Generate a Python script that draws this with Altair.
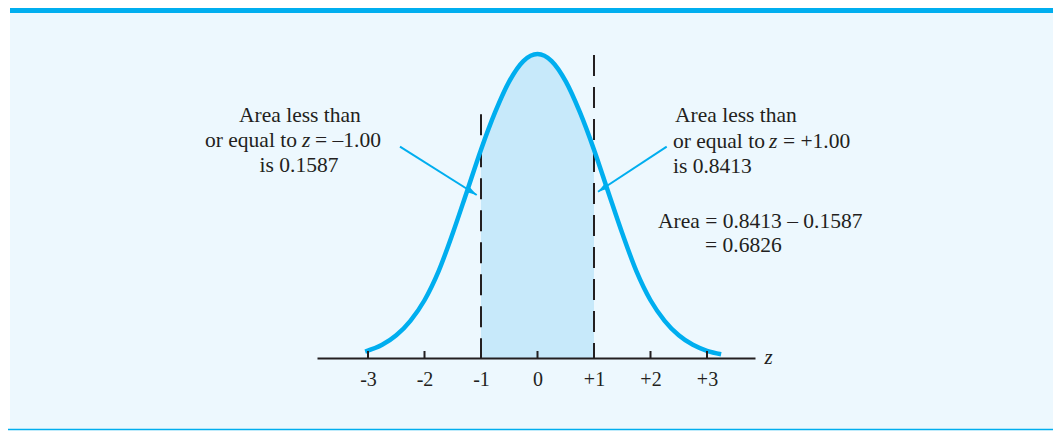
import math
import altair as alt
import pandas as pd

# ---------------- data ----------------
# bell curve (z, height)
curve_z = [-3.05, -2.75, -2.5, -2.25, -2.0, -1.75, -1.5, -1.25, -1.0, -0.75, -0.5, -0.25, 0.0,
           0.25, 0.5, 0.75, 1.0, 1.25, 1.5, 1.75, 2.0, 2.25, 2.5, 2.75, 3.0, 3.25]
curve_d = [0.0084, 0.0173, 0.0298, 0.0489, 0.0759, 0.1142, 0.1640, 0.2186, 0.2738, 0.3230,
           0.3635, 0.3902, 0.3995,
           0.3902, 0.3635, 0.3230, 0.2738, 0.2186, 0.1640, 0.1142, 0.0759, 0.0489, 0.0298,
           0.0173, 0.0095, 0.0050]

# shaded interval
shade_lo = -1.0
shade_hi = 1.0

# dashed verticals
dash_z = [-1.0, 1.0]
dash_top = [0.3202, 0.3982]

# axis ticks
tick_values = [-3, -2, -1, 0, 1, 2, 3]
tick_labels = ["-3", "-2", "-1", "0", "+1", "+2", "+3"]

# annotation texts
ann_text = ["Area less than", "or equal to", "z", "= \u20131.00", "is 0.1587",
            "Area less than", "or equal to", "z", "= +1.00", "is 0.8413",
            "Area = 0.8413 \u2013 0.1587", "= 0.6826"]
ann_z = [-4.204, -4.257, -4.168, -3.938, -4.221,
         2.434, 2.398, 4.097, 4.345, 2.398,
         2.133, 2.965]
ann_d = [0.3105, 0.2777, 0.2777, 0.2777, 0.2448,
         0.3105, 0.2766, 0.2766, 0.2766, 0.2427,
         0.1704, 0.1397]
ann_kind = ["center", "right", "italic", "left", "center",
            "left", "left", "italic", "left", "left",
            "left", "left"]

# arrows (start -> tip)
arrow_z0 = [-2.434, 2.287]
arrow_d0 = [0.2777, 0.2777]
arrow_z1 = [-1.076, 1.071]
arrow_d1 = [0.2142, 0.2185]

# ---------------- styling ----------------
BLUE = "#00AEEF"
SHADE = "#C7E9FA"
PANEL = "#EDF8FE"
INK = "#231F20"
FONT = "Liberation Serif"

W, H = 438, 345
X_DOM = [-3.9027, 3.8496]
Y_DOM = [0, 0.4534]
px_per_z = W / (X_DOM[1] - X_DOM[0])
px_per_d = H / (Y_DOM[1] - Y_DOM[0])
PAD = {"left": 309, "top": 5, "right": 298, "bottom": 73}
TOTAL_W = PAD["left"] + W + PAD["right"]

x_scale = alt.Scale(domain=X_DOM, nice=False, zero=False)
y_scale = alt.Scale(domain=Y_DOM, nice=False, zero=False)

label_expr = "[" + ",".join("'%s'" % t for t in tick_labels) + "][datum.value + 3]"
x_axis = alt.Axis(
    values=tick_values, labelExpr=label_expr, ticks=False, grid=False,
    domain=True, domainColor=INK, domainWidth=2,
    labelFont=FONT, labelFontSize=20, labelColor=INK, labelPadding=27,
    labelBaseline="alphabetic", labelFlush=False, labelOverlap=False,
    title="z", titleFont=FONT, titleFontSize=21, titleFontStyle="italic",
    titleFontWeight="normal", titleColor=INK, titleX=451, titleY=5,
    titleAlign="center", titleBaseline="alphabetic", zindex=1,
)


def X(field):
    return alt.X(field, type="quantitative", scale=x_scale, axis=x_axis)


def Y(field):
    return alt.Y(field, type="quantitative", scale=y_scale, axis=None)


curve_df = pd.DataFrame({"z": curve_z, "d": curve_d})
dash_df = pd.DataFrame({"z": dash_z, "top": dash_top, "base": [0.0] * len(dash_z)})
tick_df = pd.DataFrame({"z": tick_values})
ann_df = pd.DataFrame({"text": ann_text, "z": ann_z, "d": ann_d, "kind": ann_kind})
angles = []
for z0, d0, z1, d1 in zip(arrow_z0, arrow_d0, arrow_z1, arrow_d1):
    dx = (z1 - z0) * px_per_z
    dy = -(d1 - d0) * px_per_d
    angles.append(math.degrees(math.atan2(dx, -dy)) % 360)
arrow_df = pd.DataFrame({"z0": arrow_z0, "d0": arrow_d0, "z1": arrow_z1, "d1": arrow_d1,
                         "angle": angles})
one = pd.DataFrame({"a": [0]})

right_edge = TOTAL_W - PAD["left"]  # to the right end of the chart

panel = alt.Chart(one).mark_rect(color=PANEL).encode(
    x=alt.value(-307), x2=alt.value(right_edge), y=alt.value(0), y2=alt.value(416))
top_bar = alt.Chart(one).mark_rule(color=BLUE, strokeWidth=5.3).encode(
    x=alt.value(-307), x2=alt.value(right_edge), y=alt.value(-2.6))
bottom_line = alt.Chart(one).mark_rule(color=BLUE, strokeWidth=1.5).encode(
    x=alt.value(-312), x2=alt.value(right_edge), y=alt.value(416.5))

area = alt.Chart(curve_df).transform_filter(
    (alt.datum.z >= shade_lo) & (alt.datum.z <= shade_hi)
).mark_area(color=SHADE, opacity=1, interpolate="monotone").encode(x=X("z"), y=Y("d"))

dashes = alt.Chart(dash_df).mark_rule(color=INK, strokeWidth=2, strokeDash=[21, 11]).encode(
    x=X("z"), y=Y("top"), y2=alt.Y2("base"))

line = alt.Chart(curve_df).mark_line(color=BLUE, strokeWidth=4.5, interpolate="monotone").encode(
    x=X("z"), y=Y("d"))

ticks = alt.Chart(tick_df).mark_rule(color=INK, strokeWidth=2).encode(
    x=X("z"), y=alt.value(H), y2=alt.value(H - 7))

arrow_lines = alt.Chart(arrow_df).mark_rule(color=BLUE, strokeWidth=2).encode(
    x=X("z0"), y=Y("d0"), x2=alt.X2("z1"), y2=alt.Y2("d1"))
arrow_heads = alt.Chart(arrow_df).mark_point(
    shape="M0,0 L-0.3,1 L0.3,1 Z", filled=True, size=441, color=BLUE, opacity=1
).encode(x=X("z1"), y=Y("d1"), angle=alt.Angle("angle:Q", scale=None))


def text_layer(kind, align, style):
    return alt.Chart(ann_df).transform_filter(alt.datum.kind == kind).mark_text(
        font=FONT, fontSize=21.5, color=INK, align=align, baseline="alphabetic",
        fontStyle=style).encode(x=X("z"), y=Y("d"), text="text:N")


texts = [text_layer("center", "center", "normal"),
         text_layer("left", "left", "normal"),
         text_layer("right", "right", "normal"),
         text_layer("italic", "left", "italic")]

chart = alt.layer(
    panel, top_bar, bottom_line, area, dashes, line, ticks, arrow_lines, arrow_heads, *texts
).properties(
    width=W, height=H,
    padding=PAD,
    autosize=alt.AutoSizeParams(type="none"),
    background="white",
).configure_view(stroke=None)

chart.save("out.html", embed_options={"renderer": "svg", "actions": False})
